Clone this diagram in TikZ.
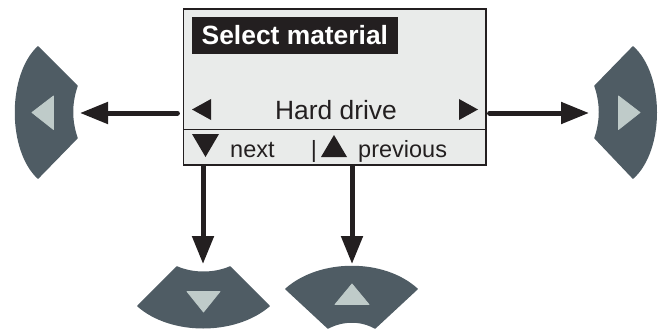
\documentclass[tikz,border=0pt]{standalone}
\usepackage{fontspec}
\setmainfont{Liberation Sans}
\usetikzlibrary{arrows.meta}
\definecolor{keygrey}{HTML}{4F5C64}
\definecolor{keymark}{HTML}{BFCBC9}
\definecolor{lcdback}{HTML}{E9EBEA}
\definecolor{inkblack}{HTML}{231F20}

\begin{document}
\begin{tikzpicture}[x=1pt,y=-1pt,
            key shape/.style={fill=keygrey,draw=keygrey,line width=1.5pt,line join=round},
            key mark/.style={fill=keymark,draw=keymark,line width=0.8pt,line join=round},
            lcd mark/.style={fill=inkblack},
            big text/.style={inner sep=0pt,anchor=base,text=inkblack,font=\fontsize{26.4}{30}\selectfont},
            small text/.style={inner sep=0pt,anchor=base west,text=inkblack,font=\fontsize{23.5}{28}\selectfont},
            push/.style={draw=inkblack,line width=5pt,line cap=round,-{Triangle[length=28pt,width=21pt]}}]
            \useasboundingbox (0,0) rectangle (667,329);
            \node[draw=inkblack,fill=lcdback,line width=1.2pt,inner sep=0pt,minimum width=302.5pt,minimum height=156pt] (screen) at (334.75,87) {};
            \node[fill=inkblack,text=white,inner xsep=9.5pt,inner ysep=9pt,anchor=west,font=\fontsize{26.4}{30}\selectfont\bfseries] (title) at (192,35.5) {Select material};
            \node[big text] (drive) at (336,119) {Hard drive};
            \node[small text] (next) at (230,157) {next};
            \node[small text,anchor=base] (bar) at (314,157) {|};
            \node[small text] (previous) at (358,157) {previous};
            \draw[inkblack,line width=0.9pt] (screen.west |- 0,129) -- (screen.east |- 0,129);
            % marks on the display
            \fill[lcd mark] (192,109.5) -- (211,99) -- (211,120) -- cycle;
            \fill[lcd mark] (478,109.5) -- (459,99) -- (459,120) -- cycle;
            \fill[lcd mark] (192,134) -- (219,134) -- (205.5,157) -- cycle;
            \fill[lcd mark] (321,157) -- (347,157) -- (334,135) -- cycle;
            % keys
            \path[key shape] (38,47) -- (77,86) .. controls (71,103) and (71,121) .. (77,138) -- (38,178) .. controls (8,150) and (8,75) .. (38,47) -- cycle;
            \path[key shape] (633,47) -- (595,86) .. controls (601,103) and (601,121) .. (595,138) -- (633,178) .. controls (664,150) and (664,75) .. (633,47) -- cycle;
            \path[key shape] (177,267) .. controls (193,274) and (214,274) .. (230,267) -- (269,306) .. controls (235,335) and (171,335) .. (138,306) -- cycle;
            \path[key shape] (286,289) .. controls (320,259) and (384,259) .. (417,289) -- (375,328) .. controls (361,320) and (343,320) .. (328,328) -- cycle;
            \path[key mark] (32,112.5) -- (53.5,96) -- (53.5,129.5) -- cycle;
            \path[key mark] (640,112.5) -- (618.5,96) -- (618.5,129.5) -- cycle;
            \path[key mark] (187,291.5) -- (220,291.5) -- (203.5,312) -- cycle;
            \path[key mark] (335,304.5) -- (369,304.5) -- (352,284) -- cycle;
            % arrows to the keys
            \coordinate (leftkey) at (80,113);
            \coordinate (rightkey) at (589,113);
            \coordinate (downkey) at (203,264);
            \coordinate (upkey) at (352,264);
            \draw[push,shorten <=5.5pt] (screen.west |- leftkey) -- (leftkey);
            \draw[push,shorten <=3pt] (screen.east |- rightkey) -- (rightkey);
            \draw[push,line cap=butt] (screen.south -| downkey) -- (downkey);
            \draw[push,line cap=butt] (screen.south -| upkey) -- (upkey);
        \end{tikzpicture}
\end{document}
